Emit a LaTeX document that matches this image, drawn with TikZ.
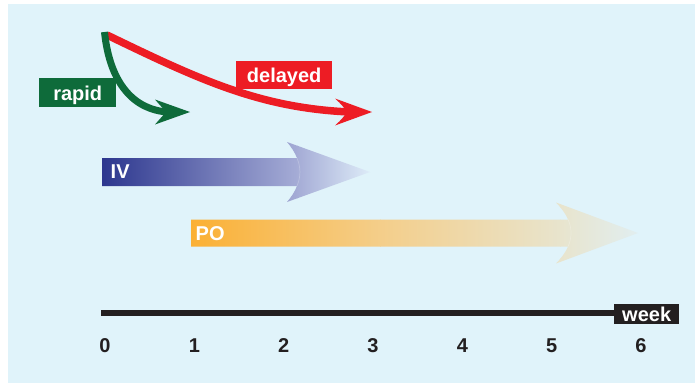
\documentclass[tikz,border=0pt]{standalone}
\usepackage{fontspec}
\setmainfont{Liberation Sans}
\definecolor{bgc}{RGB}{224,243,250}
\definecolor{grn}{RGB}{14,107,58}
\definecolor{rd}{RGB}{237,28,36}
\definecolor{dk}{RGB}{35,31,32}
\definecolor{ivA}{RGB}{44,54,142}
\definecolor{ivB}{RGB}{165,172,214}
\definecolor{ivC}{RGB}{222,236,248}
\definecolor{poA}{RGB}{251,176,52}
\definecolor{poB}{RGB}{244,206,138}
\definecolor{poC}{RGB}{232,228,205}
\definecolor{poD}{RGB}{225,238,240}
\begin{document}
\begin{tikzpicture}[x=1pt,y=-1pt,
  bigfont/.style={font=\fontsize{20}{24}\selectfont\bfseries},
  lbl/.style={bigfont,text=white,inner sep=0pt},
  num/.style={bigfont,text=dk,inner sep=0pt,anchor=base},
  seam/.style={draw=white,draw opacity=0.22,line width=0.7pt}]
\useasboundingbox (0,0) rectangle (695,383);
\fill[white] (0,0) rectangle (695,383);
\fill[bgc] (8,4) rectangle (695,383);

% IV arrow
\begin{scope}
\clip (102,158) -- (297,158) .. controls (294.9,152.7) and (291.6,147.3) .. (287,142)
  -- (370,172) -- (287,202) .. controls (291.6,196.7) and (294.9,191.3) .. (297,186)
  -- (102,186) -- cycle;
\shade[left color=ivA,right color=ivB] (101,140) rectangle (297.5,204);
\shade[left color=ivB,right color=ivC] (297,140) rectangle (371,204);
\end{scope}
\draw[seam] (297,158) .. controls (300.9,167.3) and (300.9,176.7) .. (297,186);
\node[lbl,anchor=base west] (iv) at (110.5,178.5) {IV};

% PO arrow
\begin{scope}
\clip (191,219.5) -- (568.1,219.5) .. controls (565.6,213.8) and (561.6,208.2) .. (556,202.5)
  -- (638,233) -- (556,263.5) .. controls (561.6,257.8) and (565.6,252.2) .. (568.1,246.5)
  -- (191,246.5) -- cycle;
\shade[left color=poA,right color=poB] (190,200) rectangle (380.5,265);
\shade[left color=poB,right color=poC] (380,200) rectangle (560.5,265);
\shade[left color=poC,right color=poD] (560,200) rectangle (639,265);
\end{scope}
\draw[seam] (568.1,219.5) .. controls (572,228.5) and (572,237.5) .. (568.1,246.5);
\node[lbl,anchor=base west] (po) at (195.5,240) {PO};

% delayed (red) arrow
\coordinate (rs) at (107,35);
\coordinate (re) at (350,112);
\draw[rd,line width=7.5pt] (rs) .. controls (200,80) and (260,108) .. (re);
\fill[rd] (372,112) -- (335,98.5) .. controls (342,105) .. (347,112)
  .. controls (342,119) .. (335,125.5) -- cycle;

% rapid (green) arrow
\coordinate (gs) at (104.5,32);
\coordinate (ge) at (168,112);
\draw[grn,line width=7pt] (gs) .. controls (110,85) and (135,110) .. (ge);
\fill[grn] (190,112) -- (155,99.5) .. controls (161,106) .. (166,112)
  .. controls (161,118) .. (155,124.5) -- cycle;

% labels
\node[lbl,fill=grn,minimum width=77pt,text height=22pt,text depth=7pt,anchor=north west] (rapid) at (39,78) {rapid};
\node[lbl,fill=rd,minimum width=96pt,text height=21.5pt,text depth=6.5pt,anchor=north west] (delayed) at (236,61) {delayed};

% time axis
\coordinate (ax0) at (101,313);
\node[lbl,fill=dk,minimum width=65pt,text height=17.5pt,text depth=2.5pt,anchor=north west] (week) at (614,304) {week};
\draw[dk,line width=6.5pt] (ax0) -- (week.west |- ax0);
\foreach \i in {0,...,6}
  \node[num] (n\i) at ({105+89.33*\i},352.5) {\i};
\end{tikzpicture}
\end{document}
